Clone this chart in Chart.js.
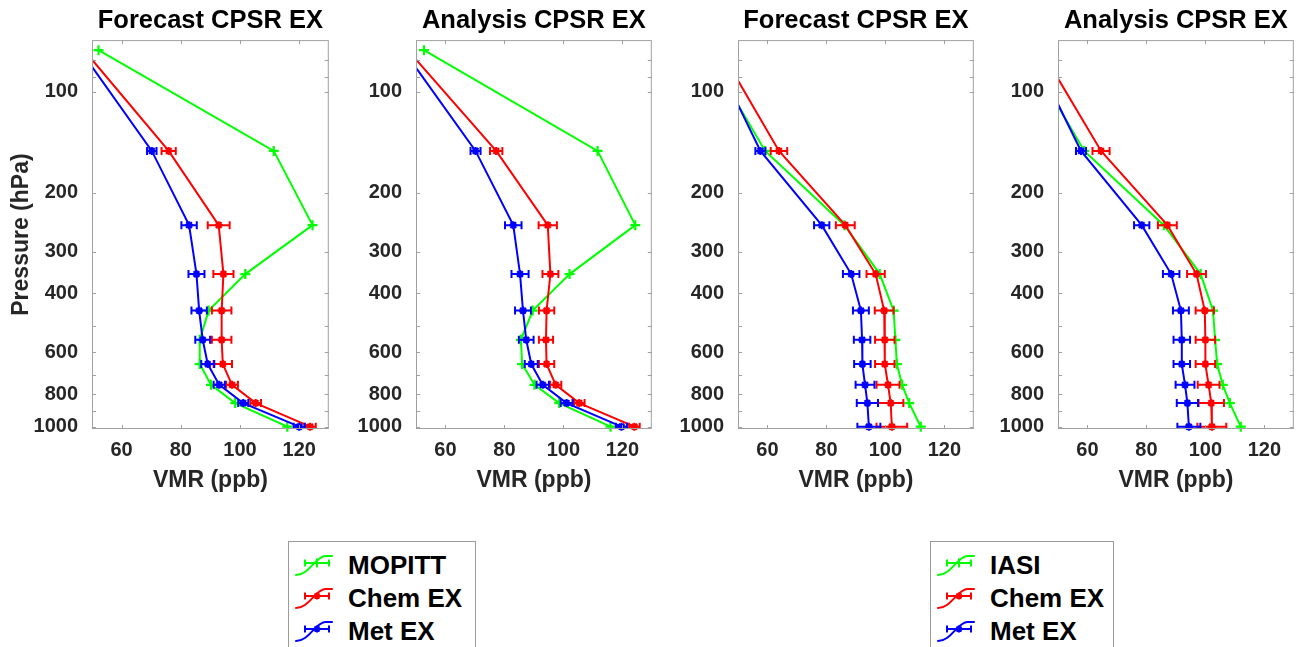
<!DOCTYPE html>
<html>
<head>
<meta charset="utf-8">
<title>CO profiles: CPSR EX</title>
<script src="https://cdn.jsdelivr.net/npm/chart.js@4.4.1/dist/chart.umd.min.js"></script>
<style>
  html, body { margin: 0; padding: 0; background: #fff; }
  body { width: 1299px; height: 647px; position: relative; overflow: hidden;
         font-family: "Liberation Sans", Arial, Helvetica, sans-serif; }
  .panel { position: absolute; top: 0; }
  .legend { position: absolute; top: 541px; height: 130px; border: 1px solid #9a9a9a;
            background: #fff; box-sizing: border-box; }
  .legend .row { position: absolute; left: 0; right: 0; height: 32px; }
  .legend canvas { position: absolute; left: 5px; top: 0; }
  .legend span { position: absolute; left: 59px; top: 0; line-height: 32px; font-weight: bold;
                 font-size: 26px; color: #000; white-space: nowrap; }
</style>
</head>
<body>
<canvas id="p1" class="panel" width="336" height="500" style="left:0px"></canvas>
<canvas id="p2" class="panel" width="335" height="500" style="left:324px"></canvas>
<canvas id="p3" class="panel" width="335" height="500" style="left:646px"></canvas>
<canvas id="p4" class="panel" width="335" height="500" style="left:966px"></canvas>

<div class="legend" id="legA" style="left:288px; width:188px;"></div>
<div class="legend" id="legB" style="left:930px; width:184px;"></div>

<script>
// Pressure levels (hPa) of the profile points and axis ticks
const pressureLevels = [75, 150, 250, 350, 450, 550, 650, 750, 850, 1000];
const pressureTicks = [100, 200, 300, 400, 600, 800, 1000];
const pressureMinorTicks = [80, 90, 500, 700, 900];
const vmrTicks = [60, 80, 100, 120];

// Forecast vs MOPITT (ppb)
const fcstMopitt        = [52.2, 111.4, 124.5, 101.8, 89.4, 86.4, 86.4, 90.2, 98.4, 116.0];
const fcstMopittChem    = [47.3, 75.9, 92.8, 94.4, 93.8, 93.8, 94.2, 97.3, 105.3, 123.7];
const fcstMopittChemErr = [0, 2.4, 3.7, 3.4, 3.3, 3.3, 3.1, 2.0, 1.8, 1.9];
const fcstMopittMet     = [46.0, 70.2, 82.8, 85.3, 86.2, 87.4, 89.1, 93.0, 101.1, 120.0];
const fcstMopittMetErr  = [0, 1.6, 2.6, 2.7, 2.6, 2.5, 2.2, 1.9, 1.7, 1.9];

// Analysis vs MOPITT (ppb)
const anlMopitt         = [52.7, 111.6, 124.4, 102.1, 89.6, 85.6, 86.0, 90.2, 98.6, 116.0];
const anlMopittChem     = [47.2, 77.2, 94.7, 95.6, 94.3, 94.1, 94.3, 97.4, 105.4, 124.1];
const anlMopittChemErr  = [0, 2.1, 3.1, 2.7, 2.6, 2.4, 2.6, 1.9, 1.8, 1.8];
const anlMopittMet      = [45.7, 70.2, 83.0, 85.3, 86.3, 87.4, 89.1, 93.0, 101.1, 119.7];
const anlMopittMetErr   = [0, 1.7, 2.8, 2.9, 2.7, 2.5, 2.2, 2.1, 2.0, 1.9];

// Forecast vs IASI (ppb)
const fcstIasi          = [39.1, 59.2, 86.1, 98.1, 102.8, 103.4, 103.9, 105.7, 108.1, 112.0];
const fcstIasiChem      = [44.0, 63.9, 86.4, 96.7, 99.6, 99.8, 99.8, 100.9, 101.8, 102.2];
const fcstIasiChemErr   = [0, 2.8, 3.2, 3.1, 3.2, 3.3, 3.3, 3.9, 4.3, 5.2];
const fcstIasiMet       = [41.0, 57.6, 78.4, 88.4, 91.7, 92.1, 92.2, 93.1, 93.9, 94.4];
const fcstIasiMetErr    = [0, 1.7, 2.6, 2.8, 2.7, 2.8, 2.8, 3.2, 3.6, 3.9];

// Analysis vs IASI (ppb)
const anlIasi           = [38.8, 58.9, 85.9, 98.4, 102.6, 103.3, 104.0, 105.9, 108.3, 112.0];
const anlIasiChem       = [44.3, 64.6, 87.1, 97.0, 99.8, 100.0, 100.0, 101.1, 102.0, 102.2];
const anlIasiChemErr    = [0, 2.9, 3.2, 3.2, 3.1, 3.3, 3.3, 3.7, 4.3, 4.9];
const anlIasiMet        = [41.0, 57.8, 78.4, 88.4, 91.7, 92.0, 92.0, 93.1, 93.9, 94.4];
const anlIasiMetErr     = [0, 1.7, 2.6, 2.8, 2.7, 2.8, 2.8, 3.2, 3.6, 3.9];

const GREEN = '#00ff00', RED = '#ff0000', BLUE = '#0000ff';
const FRAME = '#a0a0a0';
const TICK_TEXT = '#262626';
const FONT = '"Liberation Sans", Arial, Helvetica, sans-serif';

function profile(values, errors, color, marker) {
  return {
    data: values.map((v, i) => ({ x: v, y: pressureLevels[i] })),
    errorBars: errors,
    borderColor: color,
    backgroundColor: color,
    borderWidth: 2,
    pointStyle: marker,
    pointRadius: marker === 'cross' ? 5 : 4,
    pointBorderWidth: 2.2,
    pointBorderColor: color,
    pointHoverRadius: 0,
    tension: 0,
    clip: { left: 0, top: 0, right: 0, bottom: 6 }
  };
}

// Horizontal error bars with end caps, plus the boxed frame with inward ticks
const profileDecor = {
  id: 'profileDecor',
  afterDatasetDraw(chart, args) {
    const ds = chart.data.datasets[args.index];
    if (!ds.errorBars) return;
    const xs = chart.scales.x, area = chart.chartArea, ctx = chart.ctx;
    ctx.save();
    ctx.beginPath();
    ctx.rect(area.left, area.top, area.right - area.left, area.bottom - area.top);
    ctx.clip();
    ctx.strokeStyle = ds.borderColor;
    ctx.lineWidth = 2;
    args.meta.data.forEach((pt, i) => {
      const e = ds.errorBars[i];
      if (!e) return;
      const v = ds.data[i].x;
      const x0 = xs.getPixelForValue(v - e), x1 = xs.getPixelForValue(v + e), y = pt.y;
      ctx.beginPath();
      ctx.moveTo(x0, y); ctx.lineTo(x1, y);
      ctx.moveTo(x0, y - 4); ctx.lineTo(x0, y + 4);
      ctx.moveTo(x1, y - 4); ctx.lineTo(x1, y + 4);
      ctx.stroke();
    });
    ctx.restore();
  },
  afterDraw(chart) {
    const { ctx, chartArea: a, scales } = chart;
    ctx.save();
    ctx.strokeStyle = FRAME;
    ctx.lineWidth = 1;
    ctx.strokeRect(a.left + 0.5, a.top + 0.5, a.right - a.left - 1, a.bottom - a.top - 1);
    const len = 4;
    ctx.beginPath();
    vmrTicks.forEach(v => {
      const x = Math.round(scales.x.getPixelForValue(v)) + 0.5;
      ctx.moveTo(x, a.bottom); ctx.lineTo(x, a.bottom - len);
      ctx.moveTo(x, a.top); ctx.lineTo(x, a.top + len);
    });
    pressureTicks.concat(pressureMinorTicks).forEach(p => {
      const y = Math.round(scales.y.getPixelForValue(p)) + 0.5;
      ctx.moveTo(a.left, y); ctx.lineTo(a.left + len, y);
      ctx.moveTo(a.right, y); ctx.lineTo(a.right - len, y);
    });
    ctx.stroke();
    ctx.restore();
  }
};

function makePanel(id, title, showYTitle, datasets) {
  return new Chart(document.getElementById(id), {
    type: 'line',
    data: { datasets },
    plugins: [profileDecor],
    options: {
      responsive: false,
      animation: false,
      devicePixelRatio: 1,
      events: [],
      layout: { padding: { top: 0, left: 0, right: 1, bottom: 6 } },
      plugins: {
        legend: { display: false },
        tooltip: { enabled: false },
        title: {
          display: true, text: title, fullSize: false, color: '#000',
          font: { family: FONT, size: 25.5, weight: 'bold' },
          padding: { top: 6, bottom: 3.5 }
        }
      },
      scales: {
        x: {
          type: 'linear', min: 50, max: 130,
          afterBuildTicks: s => { s.ticks = vmrTicks.map(v => ({ value: v })); },
          afterFit: s => { s.height = 65; s.paddingLeft = 0; s.paddingRight = 0; },
          grid: { display: false, drawTicks: false },
          border: { display: false },
          ticks: {
            color: TICK_TEXT, padding: 9, maxRotation: 0, autoSkip: false,
            font: { family: FONT, size: 20, weight: 'bold' },
            callback: v => String(v)
          },
          title: {
            display: true, text: 'VMR (ppb)', color: TICK_TEXT,
            font: { family: FONT, size: 23, weight: 'bold' },
            padding: { top: 0, bottom: 0 }
          }
        },
        y: {
          type: 'logarithmic', reverse: true, min: 70, max: 1016,
          afterBuildTicks: s => { s.ticks = pressureTicks.map(v => ({ value: v })); },
          afterFit: s => { s.width = 92; s.paddingTop = 0; s.paddingBottom = 0; },
          grid: { display: false, drawTicks: false },
          border: { display: false },
          ticks: {
            color: TICK_TEXT, padding: 14, autoSkip: false,
            font: { family: FONT, size: 20, weight: 'bold' },
            callback: v => String(v)
          },
          title: {
            display: showYTitle, text: 'Pressure (hPa)', color: TICK_TEXT,
            font: { family: FONT, size: 23, weight: 'bold' },
            padding: { top: 8, bottom: 0 }
          }
        }
      }
    }
  });
}

makePanel('p1', 'Forecast CPSR EX', true, [
  profile(fcstMopittMet, fcstMopittMetErr, BLUE, 'star'),
  profile(fcstMopittChem, fcstMopittChemErr, RED, 'star'),
  profile(fcstMopitt, null, GREEN, 'cross')
]);
makePanel('p2', 'Analysis CPSR EX', false, [
  profile(anlMopittMet, anlMopittMetErr, BLUE, 'star'),
  profile(anlMopittChem, anlMopittChemErr, RED, 'star'),
  profile(anlMopitt, null, GREEN, 'cross')
]);
makePanel('p3', 'Forecast CPSR EX', false, [
  profile(fcstIasiMet, fcstIasiMetErr, BLUE, 'star'),
  profile(fcstIasiChem, fcstIasiChemErr, RED, 'star'),
  profile(fcstIasi, null, GREEN, 'cross')
]);
makePanel('p4', 'Analysis CPSR EX', false, [
  profile(anlIasiMet, anlIasiMetErr, BLUE, 'star'),
  profile(anlIasiChem, anlIasiChemErr, RED, 'star'),
  profile(anlIasi, null, GREEN, 'cross')
]);

// Legend entries: S-shaped line sample with an error bar and marker
function drawLegendIcon(canvas, color, marker) {
  const ctx = canvas.getContext('2d');
  ctx.strokeStyle = color;
  ctx.lineWidth = 2;
  ctx.lineCap = 'round';
  ctx.beginPath();
  ctx.moveTo(2, 26);
  ctx.bezierCurveTo(15, 26, 21, 8, 31, 7);
  ctx.lineTo(38, 7);
  ctx.stroke();
  ctx.lineCap = 'butt';
  ctx.beginPath();
  ctx.moveTo(11, 14); ctx.lineTo(35, 14);
  ctx.moveTo(11, 10.5); ctx.lineTo(11, 17.5);
  ctx.moveTo(35, 10.5); ctx.lineTo(35, 17.5);
  const cx = 23, cy = 14, r = marker === 'cross' ? 4.5 : 3.5;
  ctx.moveTo(cx - r, cy); ctx.lineTo(cx + r, cy);
  ctx.moveTo(cx, cy - r); ctx.lineTo(cx, cy + r);
  if (marker === 'star') {
    const d = r * 0.72;
    ctx.moveTo(cx - d, cy - d); ctx.lineTo(cx + d, cy + d);
    ctx.moveTo(cx - d, cy + d); ctx.lineTo(cx + d, cy - d);
  }
  ctx.stroke();
}

function buildLegend(id, entries) {
  const box = document.getElementById(id);
  entries.forEach((e, i) => {
    const row = document.createElement('div');
    row.className = 'row';
    row.style.top = (7 + i * 33) + 'px';
    const c = document.createElement('canvas');
    c.width = 44; c.height = 32;
    drawLegendIcon(c, e.color, e.marker);
    const s = document.createElement('span');
    s.textContent = e.label;
    row.appendChild(c); row.appendChild(s);
    box.appendChild(row);
  });
}

buildLegend('legA', [
  { label: 'MOPITT', color: GREEN, marker: 'cross' },
  { label: 'Chem EX', color: RED, marker: 'star' },
  { label: 'Met EX', color: BLUE, marker: 'star' }
]);
buildLegend('legB', [
  { label: 'IASI', color: GREEN, marker: 'cross' },
  { label: 'Chem EX', color: RED, marker: 'star' },
  { label: 'Met EX', color: BLUE, marker: 'star' }
]);
</script>
</body>
</html>
